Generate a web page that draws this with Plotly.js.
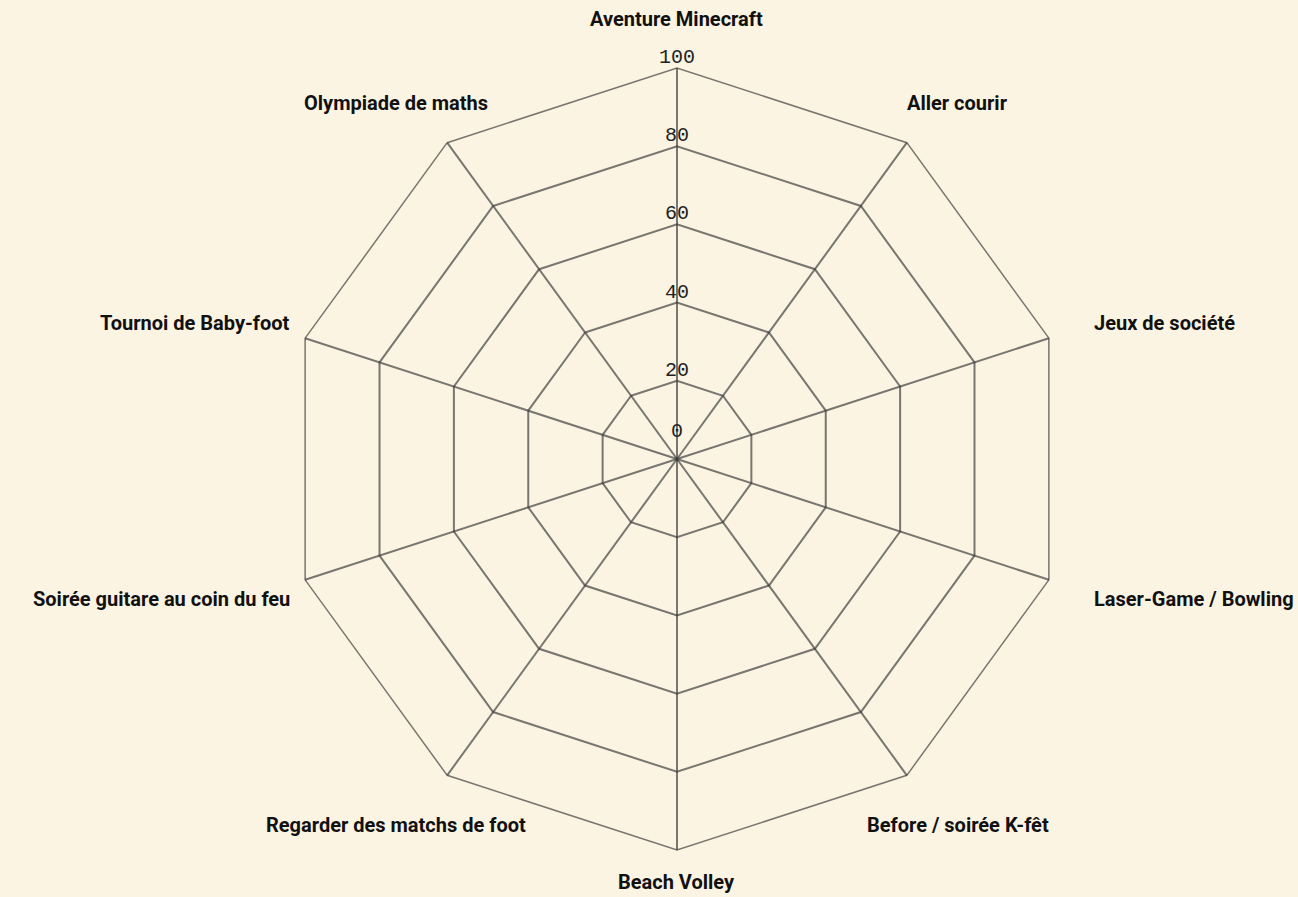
<!DOCTYPE html>
<html><head><meta charset="utf-8">
<script src="https://cdn.plot.ly/plotly-3.0.1.min.js"></script>
<style>html,body{margin:0;padding:0;background:#fcf4e2}</style></head>
<body><div id="chart" style="width:1298px;height:897px"></div>
<script>
const categories = ["Aventure Minecraft","Aller courir","Jeux de société","Laser-Game / Bowling","Before / soirée K-fêt","Beach Volley","Regarder des matchs de foot","Soirée guitare au coin du feu","Tournoi de Baby-foot","Olympiade de maths"];
const radialTicks = [0,20,40,60,80,100];
const radialTickLabels = ["0","20","40","60","80","100"];

const W = 1298, H = 897, cx = 677, cy = 459, R = 391;
const bg = "#fcf4e2";
const gridColor = "rgba(58,58,58,0.68)";
const labelFont = {family: "Roboto, 'Liberation Sans', sans-serif", size: 20, color: "#111", weight: 700};
const tickFont = {family: "'Liberation Mono', 'DejaVu Sans Mono', monospace", size: 20, color: "#222"};

// tick labels 20..100 sit just above their ring on the top spoke
const traces = [{
  type: "scatterpolar", mode: "text",
  theta: radialTicks.slice(1).map(() => categories[0]),
  r: radialTicks.slice(1),
  text: radialTickLabels.slice(1),
  textposition: "top center", textfont: tickFont,
  cliponaxis: false, hoverinfo: "skip", showlegend: false
}];

const annotations = categories.map((c, i) => {
  const a = (90 - 36 * i) * Math.PI / 180;
  const co = Math.cos(a), si = Math.sin(a);
  let anchor, kx;
  if (Math.abs(co) > 0.9) { anchor = co > 0 ? "left" : "right"; kx = co > 0 ? 436 : 405; }
  else { anchor = "center"; kx = 478; }
  const ky = si > 0 ? 440 : (si < -0.95 ? 423 : 452);
  const px = cx + co * kx, py = cy - si * ky;
  return {text: c, x: px / W, y: 1 - py / H, xref: "paper", yref: "paper",
          xanchor: anchor, yanchor: "middle", showarrow: false, font: labelFont};
});
// the "0" tick label at the centre
annotations.push({text: radialTickLabels[0], x: cx / W, y: 1 - (cy - 14) / H, xref: "paper", yref: "paper",
                  xanchor: "center", yanchor: "bottom", showarrow: false, font: tickFont});

const layout = {
  width: W, height: H,
  margin: {l: 0, r: 0, t: 0, b: 0},
  paper_bgcolor: bg, plot_bgcolor: bg,
  showlegend: false,
  polar: {
    bgcolor: bg,
    gridshape: "linear",
    domain: {x: [(cx - R) / W, (cx + R) / W], y: [1 - (cy + R) / H, 1 - (cy - R) / H]},
    radialaxis: {range: [0, 100], tickvals: radialTicks, showticklabels: false, ticks: "",
                 showline: false, gridcolor: gridColor, gridwidth: 1.5},
    angularaxis: {type: "category", categoryorder: "array", categoryarray: categories,
                  rotation: 90, direction: "clockwise", showticklabels: false, ticks: "",
                  showline: true, linecolor: gridColor, linewidth: 1.5,
                  gridcolor: gridColor, gridwidth: 1.5}
  },
  annotations: annotations
};
Plotly.newPlot("chart", traces, layout, {displayModeBar: false});
</script></body></html>
